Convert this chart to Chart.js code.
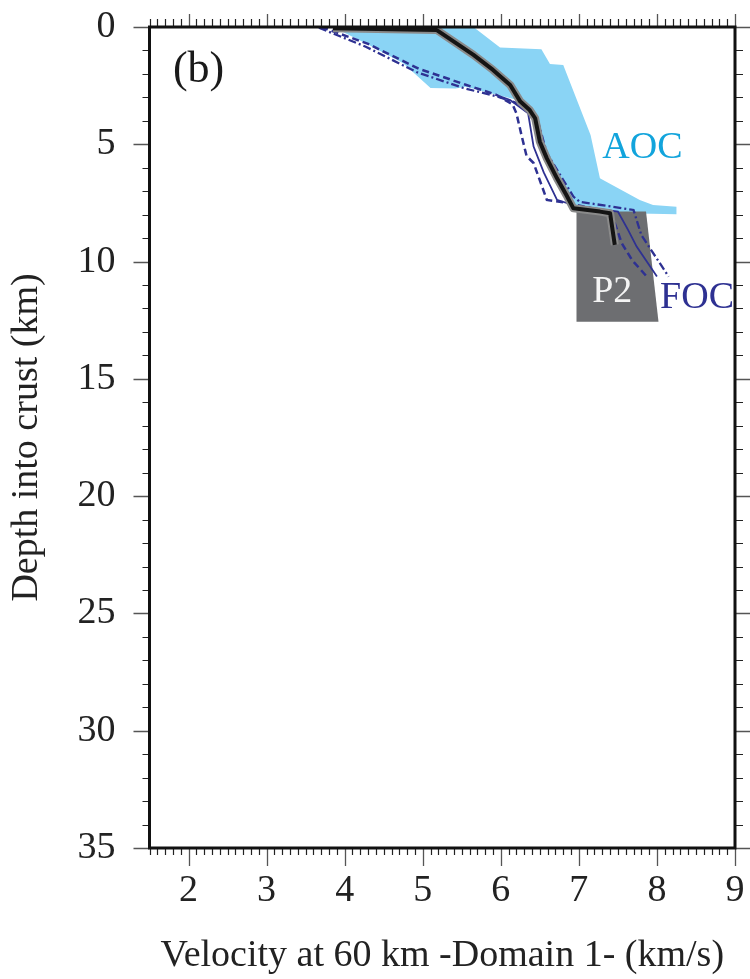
<!DOCTYPE html>
<html>
<head>
<meta charset="utf-8">
<script src="https://cdn.jsdelivr.net/npm/chart.js@4.4.1/dist/chart.umd.min.js"></script>
<style>
html,body{margin:0;padding:0;background:#fff;}
#wrap{width:750px;height:979px;position:relative;}
</style>
</head>
<body>
<div id="wrap"><canvas id="c"></canvas></div>
<script>
// ---- tick labels ----
const xTicks = [2, 3, 4, 5, 6, 7, 8, 9];
const yTicks = [0, 5, 10, 15, 20, 25, 30, 35];

// ---- AOC field (velocity km/s, depth km) ----
const aocX = [3.85, 5.65, 5.99, 6.52, 6.63, 6.80, 7.15, 7.27, 7.31, 7.78, 7.95, 8.25, 8.25, 6.97, 6.84, 6.62, 6.52, 6.44, 6.20, 5.55, 5.42, 5.10, 4.75, 4.30];
const aocY = [0.00, 0.00, 0.87, 0.95, 1.58, 1.62, 4.60, 6.45, 6.52, 7.37, 7.59, 7.66, 7.98, 7.90, 7.20, 5.60, 4.90, 3.70, 3.10, 2.55, 2.62, 2.60, 1.55, 0.75];

// ---- P2 block ----
const p2X = [6.97, 7.86, 8.02, 6.97];
const p2Y = [7.87, 7.87, 12.57, 12.57];

// ---- FOC profiles ----
const focDashX = [3.70, 4.30, 4.95, 5.55, 5.95, 6.15, 6.20, 6.27, 6.33, 6.42, 6.59, 6.85, 7.38, 7.46, 7.55, 7.68, 7.87];
const focDashY = [0.00, 0.72, 1.78, 2.46, 2.90, 3.30, 3.68, 4.68, 5.50, 5.80, 7.37, 7.50, 7.88, 8.37, 9.22, 9.93, 10.64];

const focSolidX = [5.98, 6.12, 6.35, 6.42, 6.55, 6.72, 6.95, 7.50, 7.63, 7.74, 8.00];
const focSolidY = [2.95, 3.11, 3.68, 5.10, 6.20, 7.37, 7.62, 7.87, 8.65, 9.36, 10.64];

const focDashDotX = [3.67, 4.27, 4.92, 5.52, 5.96, 6.15, 6.33, 6.46, 6.59, 6.93, 7.01, 7.70, 7.80, 8.15];
const focDashDotY = [0.03, 0.84, 1.92, 2.60, 2.97, 3.18, 3.40, 3.82, 5.38, 7.23, 7.45, 7.80, 8.87, 10.64];

// ---- Best-fit profile (black) ----
const bestX = [3.85, 5.18, 5.65, 5.90, 6.12, 6.25, 6.37, 6.44, 6.50, 6.59, 6.72, 6.84, 6.93, 7.27, 7.40, 7.46];
const bestY = [0.05, 0.13, 1.19, 1.83, 2.47, 3.18, 3.54, 3.89, 4.89, 5.60, 6.45, 7.16, 7.73, 7.87, 7.94, 9.29];

const pts = (xs, ys) => xs.map((v, i) => ({x: v, y: ys[i]}));

const SERIF = "'Liberation Serif', 'DejaVu Serif', serif";

const textLabels = [
  {text: '(b)', x: 1.80, y: 2.34, color: '#1a1a1a', size: 44},
  {text: 'AOC', x: 7.30, y: 5.58, color: '#12a4dc', size: 38},
  {text: 'P2',  x: 7.17, y: 11.72, color: '#f4f4f4', size: 38},
  {text: 'FOC', x: 8.04, y: 11.98, color: '#2e3192', size: 38}
];

const framePlugin = {
  id: 'framePlugin',
  afterDraw(chart) {
    const {ctx, chartArea: a, scales: {x, y}} = chart;
    ctx.save();
    // x ticks (top & bottom), every 0.1
    for (let i = 15; i <= 90; i++) {
      const v = i / 10;
      const px = Math.round(x.getPixelForValue(v)) + 0.5;
      const major = i % 10 === 0;
      ctx.strokeStyle = major ? '#555' : '#222';
      ctx.lineWidth = major ? 1.3 : 1.2;
      const lb = major ? 18 : 7, lt = major ? 13 : 8;
      ctx.beginPath();
      ctx.moveTo(px, a.bottom); ctx.lineTo(px, a.bottom + lb);
      ctx.moveTo(px, a.top); ctx.lineTo(px, a.top - lt);
      ctx.stroke();
    }
    // y ticks (left & right), every 1
    for (let v = 0; v <= 35; v++) {
      const py = Math.round(y.getPixelForValue(v)) + 0.5;
      const major = v % 5 === 0;
      ctx.strokeStyle = major ? '#555' : '#222';
      ctx.lineWidth = major ? 1.3 : 1.2;
      const l = major ? 16 : 7;
      ctx.beginPath();
      ctx.moveTo(a.left, py); ctx.lineTo(a.left - l, py);
      ctx.moveTo(a.right, py); ctx.lineTo(a.right + (major ? 15 : 8), py);
      ctx.stroke();
    }
    // frame
    ctx.strokeStyle = '#111';
    ctx.lineWidth = 3;
    ctx.strokeRect(a.left, a.top, a.right - a.left, a.bottom - a.top);
    // text labels
    textLabels.forEach(t => {
      ctx.font = t.size + 'px ' + SERIF;
      ctx.fillStyle = t.color;
      ctx.textAlign = 'left';
      ctx.textBaseline = 'alphabetic';
      ctx.fillText(t.text, x.getPixelForValue(t.x), y.getPixelForValue(t.y));
    });
    ctx.restore();
  }
};

const lineBase = {showLine: true, pointRadius: 0, pointHoverRadius: 0, tension: 0, fill: false};

new Chart(document.getElementById('c'), {
  type: 'scatter',
  data: {
    datasets: [
      Object.assign({}, lineBase, {label: 'best', data: pts(bestX, bestY), borderColor: '#141414', borderWidth: 4, order: 1, borderJoinStyle: 'round'}),
      Object.assign({}, lineBase, {label: 'bestHalo', data: pts(bestX, bestY), borderColor: '#8a8a8a', borderWidth: 8, order: 2, borderJoinStyle: 'round'}),
      Object.assign({}, lineBase, {label: 'focSolid', data: pts(focSolidX, focSolidY), borderColor: '#2e3192', borderWidth: 1.8, order: 3}),
      Object.assign({}, lineBase, {label: 'focDash', data: pts(focDashX, focDashY), borderColor: '#2e3192', borderWidth: 2.5, borderDash: [7, 4], order: 4}),
      Object.assign({}, lineBase, {label: 'focDashDot', data: pts(focDashDotX, focDashDotY), borderColor: '#2e3192', borderWidth: 2.3, borderDash: [8, 3, 2, 3], order: 5}),
      Object.assign({}, lineBase, {label: 'P2', data: pts(p2X, p2Y), borderWidth: 0, borderColor: 'rgba(0,0,0,0)', backgroundColor: '#6d6e71', fill: 'shape', order: 8}),
      Object.assign({}, lineBase, {label: 'AOC', data: pts(aocX, aocY), borderWidth: 0, borderColor: 'rgba(0,0,0,0)', backgroundColor: '#8ad4f5', fill: 'shape', order: 9})
    ]
  },
  options: {
    responsive: true,
    maintainAspectRatio: false,
    animation: false,
    events: [],
    layout: {padding: {top: 27, right: 15, left: 0, bottom: 0}},
    plugins: {legend: {display: false}, tooltip: {enabled: false}},
    scales: {
      x: {
        type: 'linear', position: 'bottom', min: 1.5, max: 9,
        afterBuildTicks: s => { s.ticks = xTicks.map(v => ({value: v})); },
        afterFit: s => { s.height = 131; s.paddingLeft = 0; s.paddingRight = 0; },
        grid: {display: false, drawTicks: false},
        border: {display: false},
        ticks: {font: {family: SERIF, size: 38}, color: '#222', padding: 20, maxRotation: 0, autoSkip: false},
        title: {display: true, text: 'Velocity at 60 km -Domain 1- (km/s)', font: {family: SERIF, size: 38}, color: '#222', padding: {top: 0, bottom: 0}}
      },
      y: {
        type: 'linear', position: 'left', min: 0, max: 35, reverse: true,
        afterBuildTicks: s => { s.ticks = yTicks.map(v => ({value: v})); },
        afterFit: s => { s.width = 149.5; s.paddingTop = 0; s.paddingBottom = 0; },
        grid: {display: false, drawTicks: false},
        border: {display: false},
        ticks: {font: {family: SERIF, size: 38}, color: '#222', padding: 34, autoSkip: false},
        title: {display: true, text: 'Depth into crust (km)', font: {family: SERIF, size: 38}, color: '#222', padding: {top: 4, bottom: 0}}
      }
    }
  },
  plugins: [framePlugin]
});
</script>
</body>
</html>
